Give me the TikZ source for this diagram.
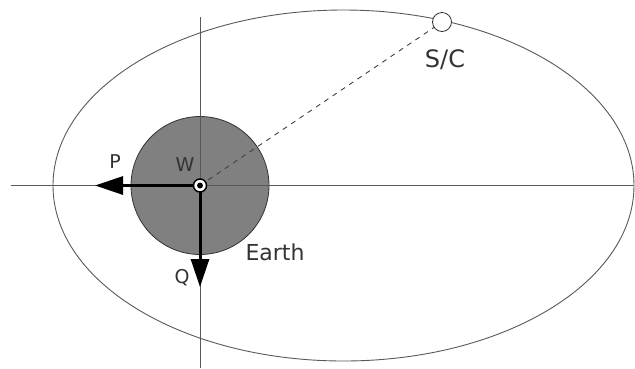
\documentclass[tikz,border=0pt]{standalone}
\usepackage{fontspec}
\setmainfont{DejaVu Sans}
\usetikzlibrary{arrows.meta}
\begin{document}
\begin{tikzpicture}[x=1pt,y=-1pt,
  thinline/.style={line width=0.9pt, draw=black!65},
  vec/.style={line width=3pt, draw=black, -{Triangle[length=28pt,width=18pt]}},
  lab/.style={text=black!80, inner sep=0pt, anchor=base}]
\useasboundingbox (0,0) rectangle (635,368);
% orbit
\coordinate (oc) at (343.5,185.5);
\draw[thinline] (oc) ellipse [x radius=290.5, y radius=175.5];
% Earth
\coordinate (O) at (200,185.5);
\node[circle, fill=black!50, draw=black!80, line width=0.8pt, minimum size=138pt, inner sep=0pt] (earth) at (O) {};
% axes
\coordinate (xl) at (11,185.5);
\coordinate (xr) at (634,185.5);
\coordinate (yt) at (200,17);
\coordinate (yb) at (200,368);
\draw[thinline] (xl) -- (xr);
\draw[thinline] (yt) -- (yb);
% spacecraft
\node[circle, draw=black!80, fill=white, line width=0.8pt, minimum size=19pt, inner sep=0pt] (sc) at (442,22) {};
\draw[dash pattern=on 5pt off 5pt, line width=0.9pt, draw=black!75] (O) -- (sc);
% vectors
\coordinate (Ptip) at (95,185.5);
\coordinate (Qtip) at (200,287);
\draw[vec] (O) -- (Ptip);
\draw[vec] (O) -- (Qtip);
% center marker
\node[circle, draw=black, fill=white, line width=1.5pt, minimum size=13pt, inner sep=0pt] (cen) at (O) {};
\fill[black] (cen.center) circle (3pt);
% labels
\node[lab, font=\fontsize{19}{19}\selectfont] (lP) at (115,168) {P};
\node[lab, font=\fontsize{19}{19}\selectfont] (lW) at (185,171) {W};
\node[lab, font=\fontsize{19}{19}\selectfont] (lQ) at (182,283) {Q};
\node[lab, font=\fontsize{22}{22}\selectfont] (lE) at (275,260) {Earth};
\node[lab, font=\fontsize{24}{24}\selectfont] (lS) at (445,67) {S/C};
\end{tikzpicture}
\end{document}
